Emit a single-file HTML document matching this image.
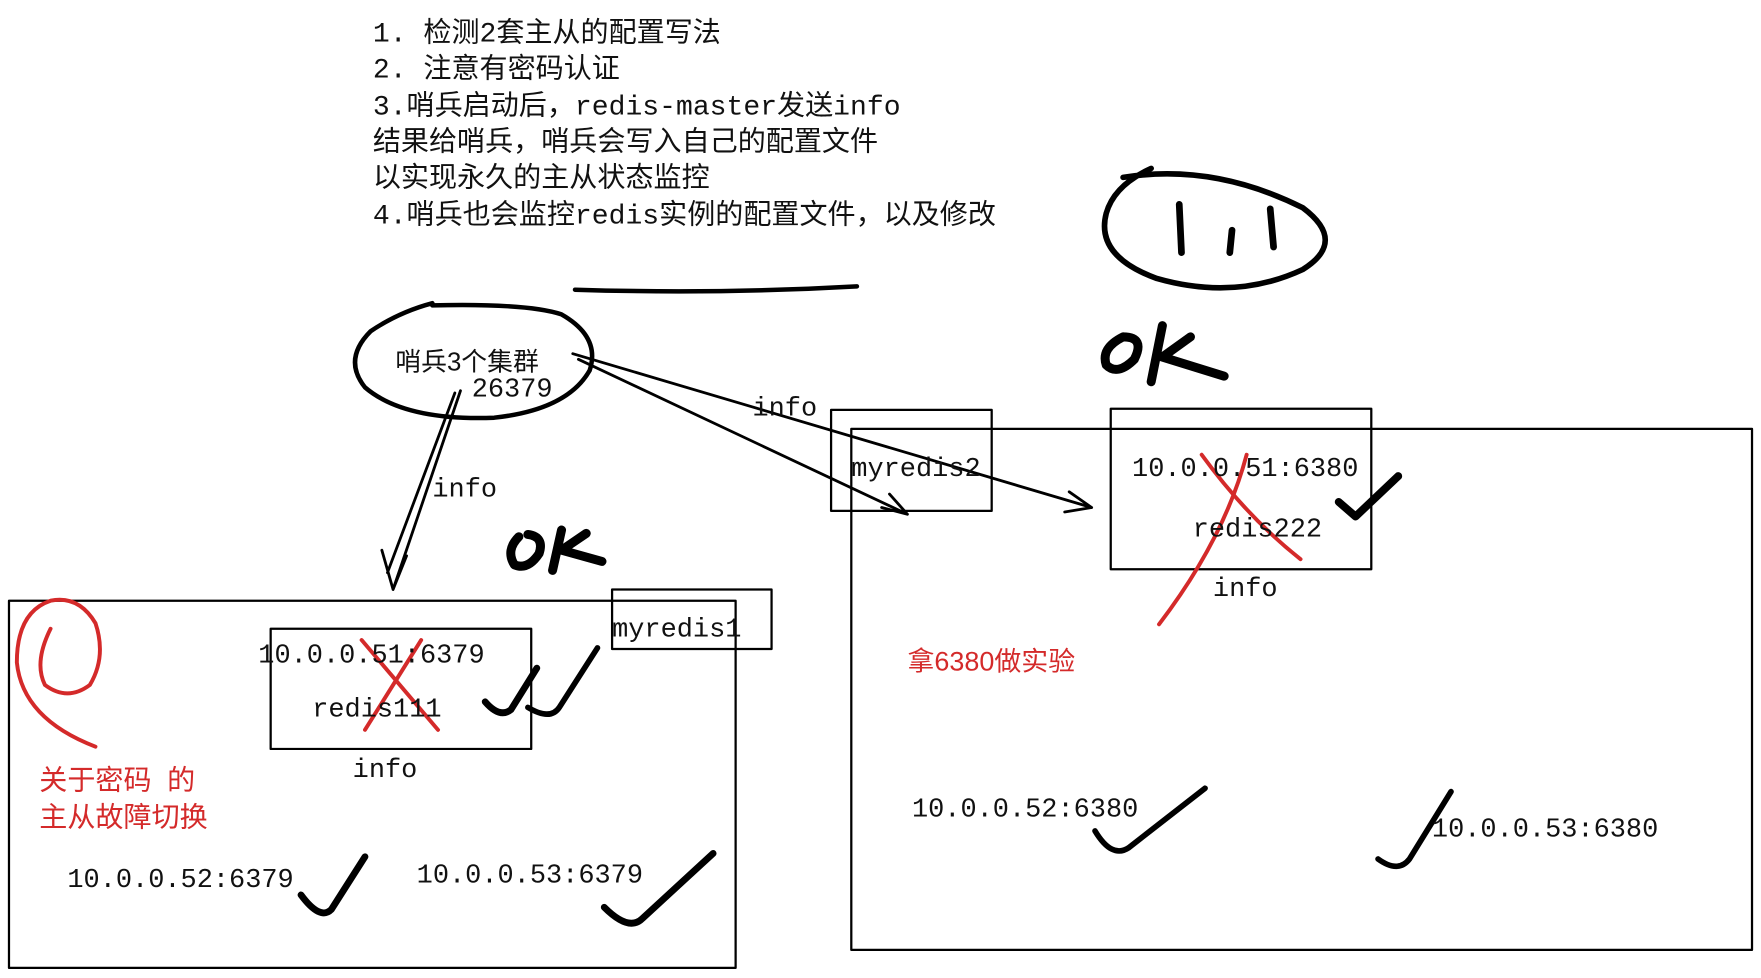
<!DOCTYPE html>
<html><head><meta charset="utf-8"><style>
html,body{margin:0;padding:0;background:#fff;}
svg{display:block}
.m{font-family:"Liberation Mono","Noto Sans CJK SC",monospace;font-size:24px;fill:#111}
.c{font-family:"Liberation Sans","Noto Sans CJK SC",sans-serif;font-size:25px;fill:#111}
.t{font-family:"Liberation Mono","Noto Sans CJK SC",monospace;font-size:25px;fill:#111}
.r{font-family:"Liberation Sans","Noto Sans CJK SC",sans-serif;font-size:24px;fill:#d42a2a}
</style></head><body>
<svg width="1761" height="978" viewBox="0 0 1568 871" preserveAspectRatio="none" xmlns="http://www.w3.org/2000/svg">
<text x="332" y="37" class="t">1. 检测2套主从的配置写法</text>
<text x="332" y="69" class="t">2. 注意有密码认证</text>
<text x="332" y="102" class="t">3.哨兵启动后，redis-master发送info</text>
<text x="332" y="134" class="c">结果给哨兵，哨兵会写入自己的配置文件</text>
<text x="332" y="166" class="c">以实现永久的主从状态监控</text>
<text x="332" y="199" class="t">4.哨兵也会监控redis实例的配置文件，以及修改</text>
<g fill="none" stroke="#000" stroke-linecap="round" stroke-linejoin="round">
<path d="M512 258 Q640 262 763 255" stroke-width="4"/>
<path d="M1000 158 Q1080 145 1160 185 Q1200 215 1160 240 Q1100 268 1030 248 Q975 228 985 190 Q992 165 1025 150" stroke-width="5"/>
<path d="M1050 182 L1052 225 M1097 205 L1095 225 M1131 186 L1134 220" stroke-width="6"/>
<path d="M1000 300 Q980 310 985 325 Q995 335 1010 320 Q1020 300 1000 300 M1035 290 L1025 340 M1060 300 L1035 318 L1090 335" stroke-width="8"/>
<path d="M462 478 Q450 490 458 503 Q470 508 480 493 Q485 478 470 476 M500 472 L492 508 M522 475 L500 490 L536 500" stroke-width="8"/>
<path d="M385 272 Q470 270 500 280 Q535 300 525 330 Q505 365 440 372 Q360 375 325 345 Q305 320 330 295 Q355 278 385 270" stroke-width="4"/>
<path d="M410 348 L350 525 M405 350 L345 510 M340 490 L350 525 L362 495" stroke-width="2.5"/>
<path d="M510 315 L972 452 M952 438 L972 452 L948 456" stroke-width="2.5"/>
<path d="M515 320 L808 458 M785 452 L808 458 L792 440" stroke-width="2.5"/>
<rect x="740" y="365" width="143" height="90" stroke-width="2"/>
<path d="M758 382 L1560 382 L1560 846 L758 846 Z" stroke-width="2"/>
<rect x="989" y="364" width="232" height="143" stroke-width="2"/>
<rect x="8" y="535" width="647" height="327" stroke-width="2"/>
<rect x="545" y="525" width="142" height="53" stroke-width="2"/>
<rect x="241" y="560" width="232" height="107" stroke-width="2"/>
<path d="M1192 447 L1207 460 L1245 424" stroke-width="7"/>
<path d="M975 740 Q990 765 1005 755 L1073 702" stroke-width="5"/>
<path d="M1227 765 Q1245 778 1255 765 L1292 705" stroke-width="5"/>
<path d="M432 625 Q445 640 455 632 L478 595" stroke-width="6"/>
<path d="M470 630 Q490 642 498 630 L532 577" stroke-width="5"/>
<path d="M268 797 Q285 820 295 810 L325 763" stroke-width="6"/>
<path d="M538 808 Q560 830 572 818 L635 760" stroke-width="6"/>
</g>
<g fill="none" stroke="#d42a2a" stroke-linecap="round" stroke-width="3.5">
<path d="M1070 405 Q1110 460 1158 498"/>
<path d="M1110 405 Q1090 480 1032 556"/>
<path d="M322 570 L390 650 M375 570 L325 650"/>
<path d="M45 560 Q30 590 40 610 Q60 625 80 610 Q95 585 85 555 Q70 530 45 535 Q15 545 15 590 Q20 640 85 665"/>
</g>
<text x="352" y="330" class="c" style="font-size:23px">哨兵3个集群</text>
<g class="m">
<text x="420" y="353">26379</text>
<text x="385" y="442">info</text>
<text x="670" y="370">info</text>
<text x="758" y="424">myredis2</text>
<text x="1008" y="424">10.0.0.51:6380</text>
<text x="1062" y="478">redis222</text>
<text x="1080" y="531">info</text>
<text x="812" y="727">10.0.0.52:6380</text>
<text x="1275" y="745">10.0.0.53:6380</text>
<text x="545" y="567">myredis1</text>
<text x="230" y="590">10.0.0.51:6379</text>
<text x="278" y="638">redis111</text>
<text x="314" y="692">info</text>
<text x="60" y="790">10.0.0.52:6379</text>
<text x="371" y="786">10.0.0.53:6379</text>
</g>
<text x="808" y="597" class="r">拿6380做实验</text>
<text x="35" y="703" class="r" style="font-size:25px" xml:space="preserve">关于密码  的</text>
<text x="35" y="736" class="r" style="font-size:25px">主从故障切换</text>
</svg>
</body></html>
